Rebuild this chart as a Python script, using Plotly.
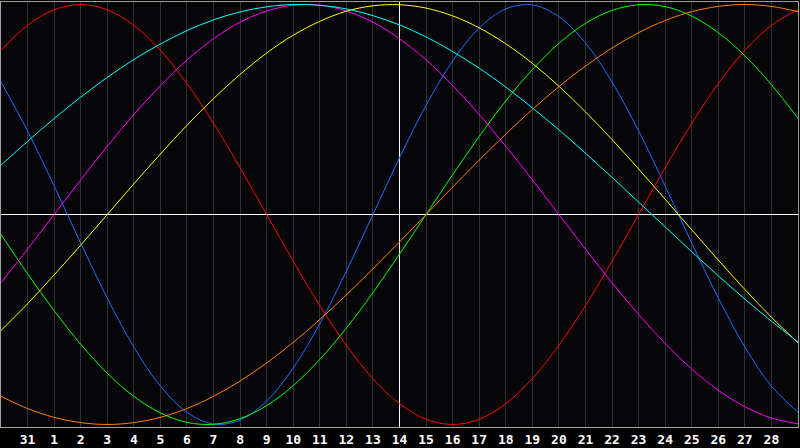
import plotly.graph_objects as go

# Day labels (index 0 .. 30), 30 of previous month through 29
day_labels = ["30", "31"] + [str(d) for d in range(1, 30)]
today_label = "14"

# Biorhythm values at each day boundary
physical = [0.631, 0.398, 0.136, -0.136, -0.398, -0.631, -0.817, -0.942, -0.998, -0.979,
            -0.888, -0.731, -0.520, -0.270, 0.000, 0.270, 0.520, 0.731, 0.888, 0.979,
            0.998, 0.942, 0.817, 0.631, 0.398, 0.136, -0.136, -0.398, -0.631, -0.817, -0.942]
emotional = [0.782, 0.901, 0.975, 1.000, 0.975, 0.901, 0.782, 0.623, 0.434, 0.223,
             0.000, -0.223, -0.434, -0.623, -0.782, -0.901, -0.975, -1.000, -0.975, -0.901,
             -0.782, -0.623, -0.434, -0.223, 0.000, 0.223, 0.434, 0.623, 0.782, 0.901, 0.975]
intellectual = [-0.095, -0.282, -0.458, -0.618, -0.756, -0.866, -0.945, -0.990, -0.999, -0.972,
                -0.910, -0.815, -0.690, -0.541, -0.372, -0.189, 0.000, 0.189, 0.372, 0.541,
                0.690, 0.815, 0.910, 0.972, 0.999, 0.990, 0.945, 0.866, 0.756, 0.618, 0.458]
intuitive = [-0.325, -0.165, 0.000, 0.165, 0.325, 0.476, 0.614, 0.736, 0.837, 0.916,
             0.969, 0.997, 0.997, 0.969, 0.916, 0.837, 0.736, 0.614, 0.476, 0.325,
             0.165, 0.000, -0.165, -0.325, -0.476, -0.614, -0.736, -0.837, -0.916, -0.969, -0.997]
aesthetic = [-0.552, -0.425, -0.288, -0.146, 0.000, 0.146, 0.288, 0.425, 0.552, 0.667,
             0.769, 0.854, 0.920, 0.968, 0.994, 0.999, 0.983, 0.946, 0.889, 0.813,
             0.720, 0.611, 0.489, 0.357, 0.217, 0.073, -0.073, -0.217, -0.357, -0.489, -0.611]
awareness = [-0.866, -0.924, -0.966, -0.991, -1.000, -0.991, -0.966, -0.924, -0.866, -0.793,
             -0.707, -0.609, -0.500, -0.383, -0.259, -0.131, 0.000, 0.131, 0.259, 0.383,
             0.500, 0.609, 0.707, 0.793, 0.866, 0.924, 0.966, 0.991, 1.000, 0.991, 0.966]
spiritual = [0.235, 0.348, 0.457, 0.559, 0.653, 0.738, 0.812, 0.876, 0.927, 0.965,
             0.989, 1.000, 0.996, 0.979, 0.947, 0.903, 0.846, 0.776, 0.697, 0.607,
             0.508, 0.403, 0.292, 0.177, 0.059, -0.059, -0.177, -0.292, -0.403, -0.508, -0.607]

series = [
    ("Physical", physical, "#1a6cff"),
    ("Emotional", emotional, "#ff0000"),
    ("Intellectual", intellectual, "#00ff00"),
    ("Intuitive", intuitive, "#ff00ff"),
    ("Aesthetic", aesthetic, "#ffff00"),
    ("Awareness", awareness, "#ff8000"),
    ("Spiritual", spiritual, "#00ffff"),
]

xs = list(range(len(day_labels)))
y_lim = 1.012
today_x = day_labels.index(today_label, 2)

fig = go.Figure()
# "today" marker line, drawn first so the curves sit on top of it
fig.add_trace(go.Scatter(x=[today_x, today_x], y=[-y_lim, y_lim], mode="lines",
                         line=dict(color="#ffffff", width=1), hoverinfo="skip",
                         name="Today"))
for name, vals, col in series:
    fig.add_trace(go.Scatter(x=xs, y=vals, mode="lines", name=name,
                             line=dict(color=col, width=1, shape="spline"),
                             hoverinfo="skip"))

fig.update_layout(
    width=800, height=448,
    margin=dict(l=1, r=1, t=1, b=20, pad=0),
    paper_bgcolor="#000000",
    plot_bgcolor="#060609",
    showlegend=False,
    xaxis=dict(
        range=[0, len(day_labels) - 1],
        tickvals=xs[1:-1],
        ticktext=day_labels[1:-1],
        showgrid=True, gridcolor="#303030", gridwidth=1,
        zeroline=False,
        showline=True, mirror=True, linecolor="#a0a0a0", linewidth=1,
        ticks="", ticklen=0,
        tickfont=dict(family="DejaVu Sans Mono", size=13, color="#ffffff", weight="bold"),
        fixedrange=True,
    ),
    yaxis=dict(
        range=[-y_lim, y_lim],
        showgrid=False,
        zeroline=True, zerolinecolor="#ffffff", zerolinewidth=1,
        showticklabels=False,
        showline=True, mirror=True, linecolor="#a0a0a0", linewidth=1,
        fixedrange=True,
    ),
)

fig.write_html("out.html", config={"displayModeBar": False},
               post_script="document.body.style.margin='0';document.body.style.background='#000';")
